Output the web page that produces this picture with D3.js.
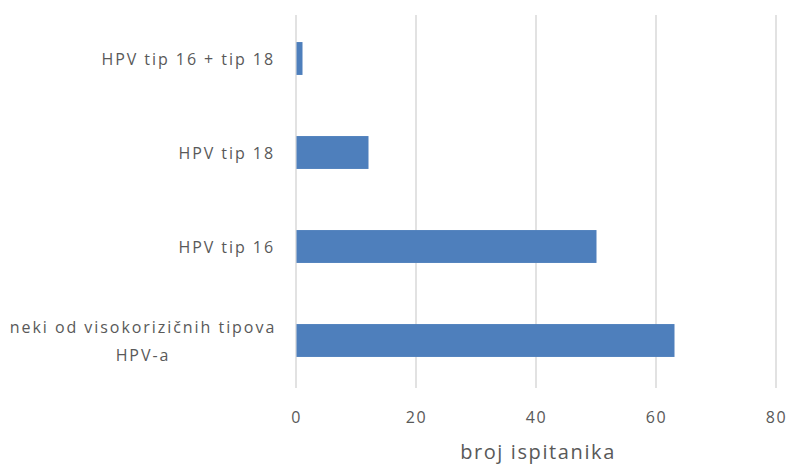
<!DOCTYPE html>
<html><head><meta charset="utf-8">
<script src="https://cdn.jsdelivr.net/npm/d3@7"></script>
<style>body{margin:0;background:#fff}svg text{font-family:"Open Sans",sans-serif}</style>
</head><body><svg id="c" width="790" height="466"></svg>
<script>
const categories = ["HPV tip 16 + tip 18", "HPV tip 18", "HPV tip 16", "neki od visokorizičnih tipova HPV-a"];
const labelLines = [["HPV tip 16 + tip 18"], ["HPV tip 18"], ["HPV tip 16"], ["neki od visokorizičnih tipova", "HPV-a"]];
const values = [1, 12, 50, 63];
const xTicks = [0, 20, 40, 60, 80];
const axisTitle = "broj ispitanika";

const svg = d3.select("#c");
const x = d3.scaleLinear().domain([0, 80]).range([296, 776]);
const y = d3.scaleBand().domain(categories).range([11.5, 387.5]).paddingInner(0.65).paddingOuter(0.325);

// gridlines
svg.append("g").selectAll("line").data(xTicks).join("line")
  .attr("x1", d => x(d)).attr("x2", d => x(d))
  .attr("y1", 15).attr("y2", 388)
  .attr("stroke", "#d9d9d9").attr("stroke-width", 1.5);

// bars
svg.append("g").selectAll("rect").data(values).join("rect")
  .attr("x", x(0) + 0.5)
  .attr("y", (d, i) => y(categories[i]))
  .attr("width", d => x(d) - x(0))
  .attr("height", y.bandwidth())
  .attr("fill", "#4e7fbc");

// x tick labels
const xAxis = d3.axisBottom(x).tickValues(xTicks).tickSize(0).tickPadding(0);
const gx = svg.append("g").attr("transform", "translate(0,417)").call(xAxis);
gx.select(".domain").remove();
gx.selectAll("text").attr("fill", "#595959").attr("font-size", 16).attr("letter-spacing", 1.5)
  .attr("dy", null).attr("dominant-baseline", "central")
  .attr("font-family", "Open Sans, sans-serif");

// category labels
const gy = svg.append("g");
const lh = 28;
categories.forEach((c, i) => {
  const lines = labelLines[i];
  const cy = y(c) + y.bandwidth() / 2;
  lines.forEach((l, j) => {
    const t = gy.append("text").attr("fill", "#595959").attr("font-size", 16).attr("letter-spacing", 1.95)
      .attr("dominant-baseline", "central")
      .attr("y", cy + (j - (lines.length - 1) / 2) * lh).text(l);
    if (lines.length === 1) t.attr("x", 275).attr("text-anchor", "end");
    else t.attr("x", 143).attr("text-anchor", "middle");
  });
});

// axis title
svg.append("text").attr("x", 538).attr("y", 451).attr("text-anchor", "middle")
  .attr("dominant-baseline", "central").attr("fill", "#595959").attr("font-size", 20)
  .attr("letter-spacing", 1.6).text(axisTitle);
</script></body></html>
